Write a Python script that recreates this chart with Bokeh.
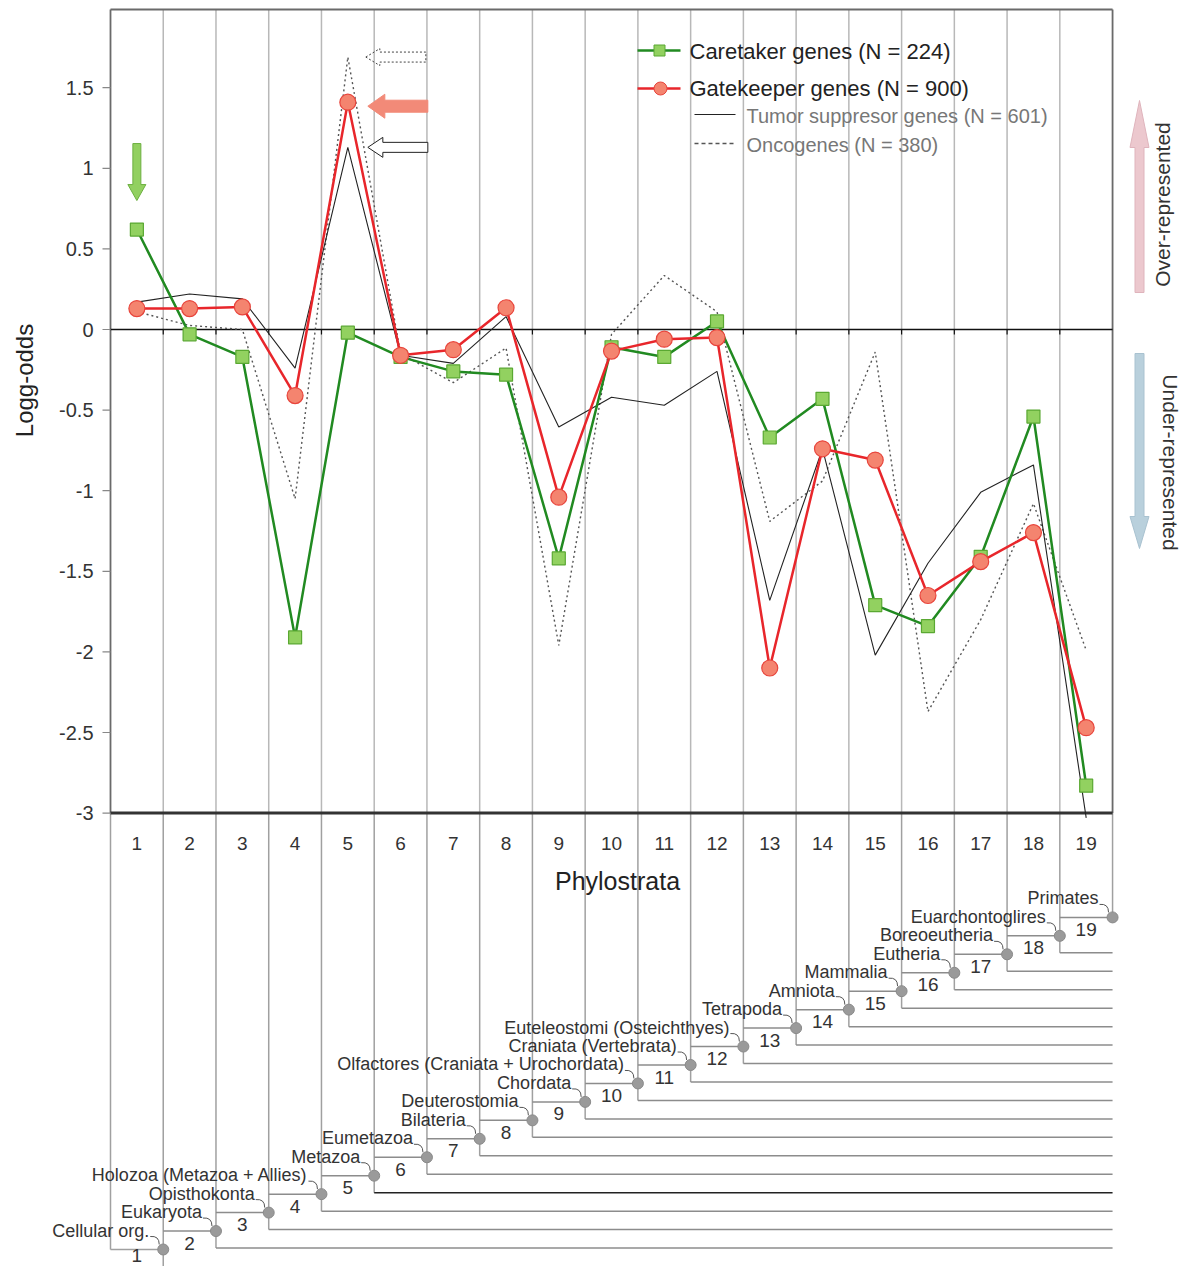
import math
from bokeh.plotting import figure
from bokeh.models import Range1d
from bokeh.core.properties import value
from bokeh.embed import file_html
from bokeh.resources import INLINE

# ---------------- data ----------------
phylostrata = list(range(1, 20))
caretaker = [0.62, -0.03, -0.17, -1.91, -0.02, -0.17, -0.26, -0.28, -1.42, -0.11,
             -0.17, 0.05, -0.67, -0.43, -1.71, -1.84, -1.41, -0.54, -2.83]
gatekeeper = [0.13, 0.13, 0.14, -0.41, 1.41, -0.16, -0.125, 0.135, -1.04, -0.134,
              -0.06, -0.05, -2.10, -0.74, -0.81, -1.65, -1.44, -1.26, -2.47]
tumor_suppressor = [0.17, 0.22, 0.19, -0.24, 1.13, -0.16, -0.21, 0.08, -0.605, -0.42,
                    -0.47, -0.26, -1.68, -0.74, -2.02, -1.45, -1.01, -0.84, -3.03]
oncogenes = [0.11, 0.025, 0.0, -1.05, 1.69, -0.15, -0.33, -0.115, -1.96, -0.03,
             0.335, 0.11, -1.19, -0.94, -0.14, -2.37, -1.80, -1.08, -1.99]
y_ticks = [-3, -2.5, -2, -1.5, -1, -0.5, 0, 0.5, 1, 1.5]
y_tick_labels = ["-3", "-2.5", "-2", "-1.5", "-1", "-0.5", "0", "0.5", "1", "1.5"]
taxa = ["Cellular org.", "Eukaryota", "Opisthokonta", "Holozoa (Metazoa + Allies)",
        "Metazoa", "Eumetazoa", "Bilateria", "Deuterostomia", "Chordata",
        "Olfactores (Craniata + Urochordata)", "Craniata (Vertebrata)",
        "Euteleostomi (Osteichthyes)", "Tetrapoda", "Amniota", "Mammalia",
        "Eutheria", "Boreoeutheria", "Euarchontoglires", "Primates"]
legend_labels = ["Caretaker genes (N = 224)", "Gatekeeper genes (N = 900)",
                 "Tumor suppresor genes (N = 601)", "Oncogenes (N = 380)"]

# ---------------- layout helpers (pixel -> data) ----------------
W, H = 1188, 1266
XS = 52.74   # px per phylostratum
YS = 161.2   # px per log-odds unit
def dx(px):
    return 0.5 + (px - 110) / XS
def dy(py):
    return (329 - py) / YS

FONT = value("Liberation Sans")
TOP = dy(9)
YMIN = -3
n = len(phylostrata)
xl, xr = phylostrata[0] - 0.5, phylostrata[-1] + 0.5

p = figure(width=W, height=H,
           x_range=Range1d(dx(0), dx(W)), y_range=Range1d(dy(H), dy(0)),
           output_backend="svg", toolbar_location=None, title=None,
           min_border_left=0, min_border_right=0, min_border_top=0, min_border_bottom=0,
           x_axis_location=None, y_axis_location=None)
p.grid.visible = False
p.outline_line_color = None
p.background_fill_color = "white"
p.border_fill_color = "white"

# ---------------- tree geometry ----------------
node_x = [k + 0.5 for k in phylostrata]
node_y = [dy(1249 - 18.45 * (k - 1)) for k in phylostrata]
low_off = 17 / YS
bottom = dy(1266)

# separators in chart area
sep_x = node_x[:-1]
p.segment(x0=sep_x, y0=[TOP] * len(sep_x), x1=sep_x, y1=[YMIN] * len(sep_x),
          line_color="#b8b8b8", line_width=1.5)
# continuation below the chart down to the tree nodes
ends = [bottom] + [node_y[i] - low_off for i in range(1, n - 1)]
p.segment(x0=sep_x, y0=[YMIN] * len(sep_x), x1=sep_x, y1=ends,
          line_color="#a0a0a0", line_width=1.5)
# borders continued into tree
p.segment(x0=[xl, xr], y0=[YMIN, YMIN], x1=[xl, xr], y1=[node_y[0], node_y[-1]],
          line_color="#a0a0a0", line_width=1.5)
p.segment(x0=[xl], y0=[node_y[0]], x1=[node_x[0]], y1=[node_y[0]],
          line_color="#a0a0a0", line_width=1.5)
# upper branches
p.segment(x0=node_x[:-1], y0=node_y[1:], x1=node_x[1:], y1=node_y[1:],
          line_color="#8c8c8c", line_width=1.5)
# lower branches
low_cols = ["#8c8c8c"] * (n - 2)
low_cols[3] = "#222222"
p.segment(x0=node_x[1:-1], y0=[y - low_off for y in node_y[1:-1]],
          x1=[xr] * (n - 2), y1=[y - low_off for y in node_y[1:-1]],
          line_color=low_cols, line_width=1.5)
# nodes
p.scatter(node_x, node_y, size=11, marker="circle", fill_color="#9a9a9a", line_color="#8a8a8a")
# leaders
p.quadratic(x0=[x - 13 / XS for x in node_x], y0=[y + 13 / YS for y in node_y],
            x1=[x - 4 / XS for x in node_x], y1=[y + 5 / YS for y in node_y],
            cx=[x - 4 / XS for x in node_x], cy=[y + 14 / YS for y in node_y],
            line_color="#555555", line_width=1)
# taxon names
p.text(x=[x - 14 / XS for x in node_x], y=[y + 19 / YS for y in node_y], text=taxa,
       text_font=FONT, text_font_size="18px", text_color="#333333",
       text_align="right", text_baseline="middle")
# stratum numbers in tree
num_y = [max(y - 12 / YS, dy(1255)) for y in node_y]
p.text(x=phylostrata, y=num_y, text=[str(k) for k in phylostrata],
       text_font=FONT, text_font_size="19px", text_color="#333333",
       text_align="center", text_baseline="middle")

# ---------------- chart frame ----------------
p.segment(x0=[xl, xr], y0=[TOP, TOP], x1=[xl, xr], y1=[YMIN, YMIN],
          line_color="#6a6a6a", line_width=1.8)
p.segment(x0=[xl], y0=[TOP], x1=[xr], y1=[TOP], line_color="#6a6a6a", line_width=1.8)
p.segment(x0=[xl], y0=[0], x1=[xr], y1=[0], line_color="#111111", line_width=1.6)
p.segment(x0=sep_x, y0=[0] * len(sep_x), x1=sep_x, y1=[-5 / YS] * len(sep_x),
          line_color="#111111", line_width=1.2)
p.segment(x0=[xl], y0=[YMIN], x1=[xr], y1=[YMIN], line_color="#333333", line_width=3)

# y axis ticks and labels
p.segment(x0=[dx(102)] * len(y_ticks), y0=y_ticks, x1=[xl] * len(y_ticks), y1=y_ticks,
          line_color="#888888", line_width=1.2)
p.text(x=[dx(93)] * len(y_ticks), y=y_ticks, text=y_tick_labels, text_font=FONT,
       text_font_size="20px", text_color="#333333", text_align="right", text_baseline="middle")
p.text(x=[dx(24)], y=[dy(380)], text=["Logg-odds"], angle=math.pi / 2, text_font=FONT,
       text_font_size="24px", text_color="#222222", text_align="center", text_baseline="middle")

# x tick labels + title
p.text(x=phylostrata, y=[dy(843)] * n, text=[str(k) for k in phylostrata],
       text_font=FONT, text_font_size="19px", text_color="#333333",
       text_align="center", text_baseline="middle")
p.text(x=[dx(617)], y=[dy(880)], text=["Phylostrata"], text_font=FONT,
       text_font_size="25px", text_color="#222222", text_align="center", text_baseline="middle")

# ---------------- series ----------------
p.line(phylostrata, oncogenes, line_color="#555555", line_width=1.4, line_dash="2 3")
p.line(phylostrata, tumor_suppressor, line_color="#222222", line_width=1.1)
p.line(phylostrata, caretaker, line_color="#218a21", line_width=2.5)
p.scatter(phylostrata, caretaker, marker="square", size=13,
          fill_color="#92d160", line_color="#5aa832", line_width=1.2)
p.line(phylostrata, gatekeeper, line_color="#e8262b", line_width=2.5)
p.scatter(phylostrata, gatekeeper, marker="circle", size=16,
          fill_color="#f4846f", line_color="#e8453c", line_width=1.2)

# ---------------- block arrows ----------------
def block_arrow(tx, ty, direction, length, shaft_w, head_w, head_l):
    a, b = {"left": ((1, 0), (0, 1)), "down": ((0, 1), (1, 0)), "up": ((0, -1), (1, 0))}[direction]
    pts = [(0, 0), (head_l, head_w / 2), (head_l, shaft_w / 2), (length, shaft_w / 2),
           (length, -shaft_w / 2), (head_l, -shaft_w / 2), (head_l, -head_w / 2)]
    xs = [tx + (s * a[0] + t * b[0]) / XS for s, t in pts]
    ys = [ty + (s * a[1] + t * b[1]) / YS for s, t in pts]
    return xs, ys

gx, gy = block_arrow(phylostrata[0], caretaker[0] + 29 / YS, "down", 57, 8, 18, 16)
p.patch(gx, gy, fill_color="#92d060", line_color="#6cb040", line_width=1)
rx, ry = block_arrow(phylostrata[4] + 20 / XS, gatekeeper[4] - 4 / YS, "left", 60, 12, 24, 17)
p.patch(rx, ry, fill_color="#f28a78", line_color="#f28a78", line_width=1)
wx, wy = block_arrow(phylostrata[4] + 20 / XS, tumor_suppressor[4], "left", 60, 10, 20, 15)
p.patch(wx, wy, fill_color="white", line_color="#222222", line_width=1)
ox, oy = block_arrow(phylostrata[4] + 18 / XS, oncogenes[4], "left", 60, 10, 17, 14)
p.patch(ox, oy, fill_color=None, line_color="#444444", line_width=1, line_dash="2 2")

ux, uy = block_arrow(dx(1139), dy(100), "up", 192, 9, 19, 47)
p.patch(ux, uy, fill_color="#ecc8ce", line_color="#dfb4bc", line_width=1)
bx, by = block_arrow(dx(1139), dy(548), "down", 195, 9, 19, 32)
p.patch(bx, by, fill_color="#b9d0dc", line_color="#a9c2d0", line_width=1)
p.text(x=[dx(1162)], y=[dy(204)], text=["Over-represented"], angle=math.pi / 2,
       text_font=FONT, text_font_size="21px", text_color="#333333",
       text_align="center", text_baseline="middle")
p.text(x=[dx(1170)], y=[dy(462)], text=["Under-represented"], angle=-math.pi / 2,
       text_font=FONT, text_font_size="21px", text_color="#333333",
       text_align="center", text_baseline="middle")

# ---------------- legend ----------------
p.segment(x0=[dx(637)], y0=[dy(50)], x1=[dx(680)], y1=[dy(50)], line_color="#218a21", line_width=2.5)
p.scatter([dx(659)], [dy(50)], marker="square", size=11, fill_color="#92d160", line_color="#5aa832")
p.segment(x0=[dx(637)], y0=[dy(88)], x1=[dx(680)], y1=[dy(88)], line_color="#e8262b", line_width=2.5)
p.scatter([dx(660)], [dy(88)], marker="circle", size=13, fill_color="#f4846f", line_color="#e8453c")
p.segment(x0=[dx(694)], y0=[dy(114)], x1=[dx(735)], y1=[dy(114)], line_color="#222222", line_width=1.1)
p.segment(x0=[dx(694)], y0=[dy(143)], x1=[dx(735)], y1=[dy(143)], line_color="#555555",
          line_width=1.3, line_dash="4 3")
p.text(x=[dx(689), dx(689)], y=[dy(51), dy(88)], text=legend_labels[:2], text_font=FONT,
       text_font_size="22px", text_color="#222222", text_align="left", text_baseline="middle")
p.text(x=[dx(746), dx(746)], y=[dy(115), dy(144)], text=legend_labels[2:], text_font=FONT,
       text_font_size="20px", text_color="#777777", text_align="left", text_baseline="middle")

open("out.html", "w").write(file_html(p, INLINE))
